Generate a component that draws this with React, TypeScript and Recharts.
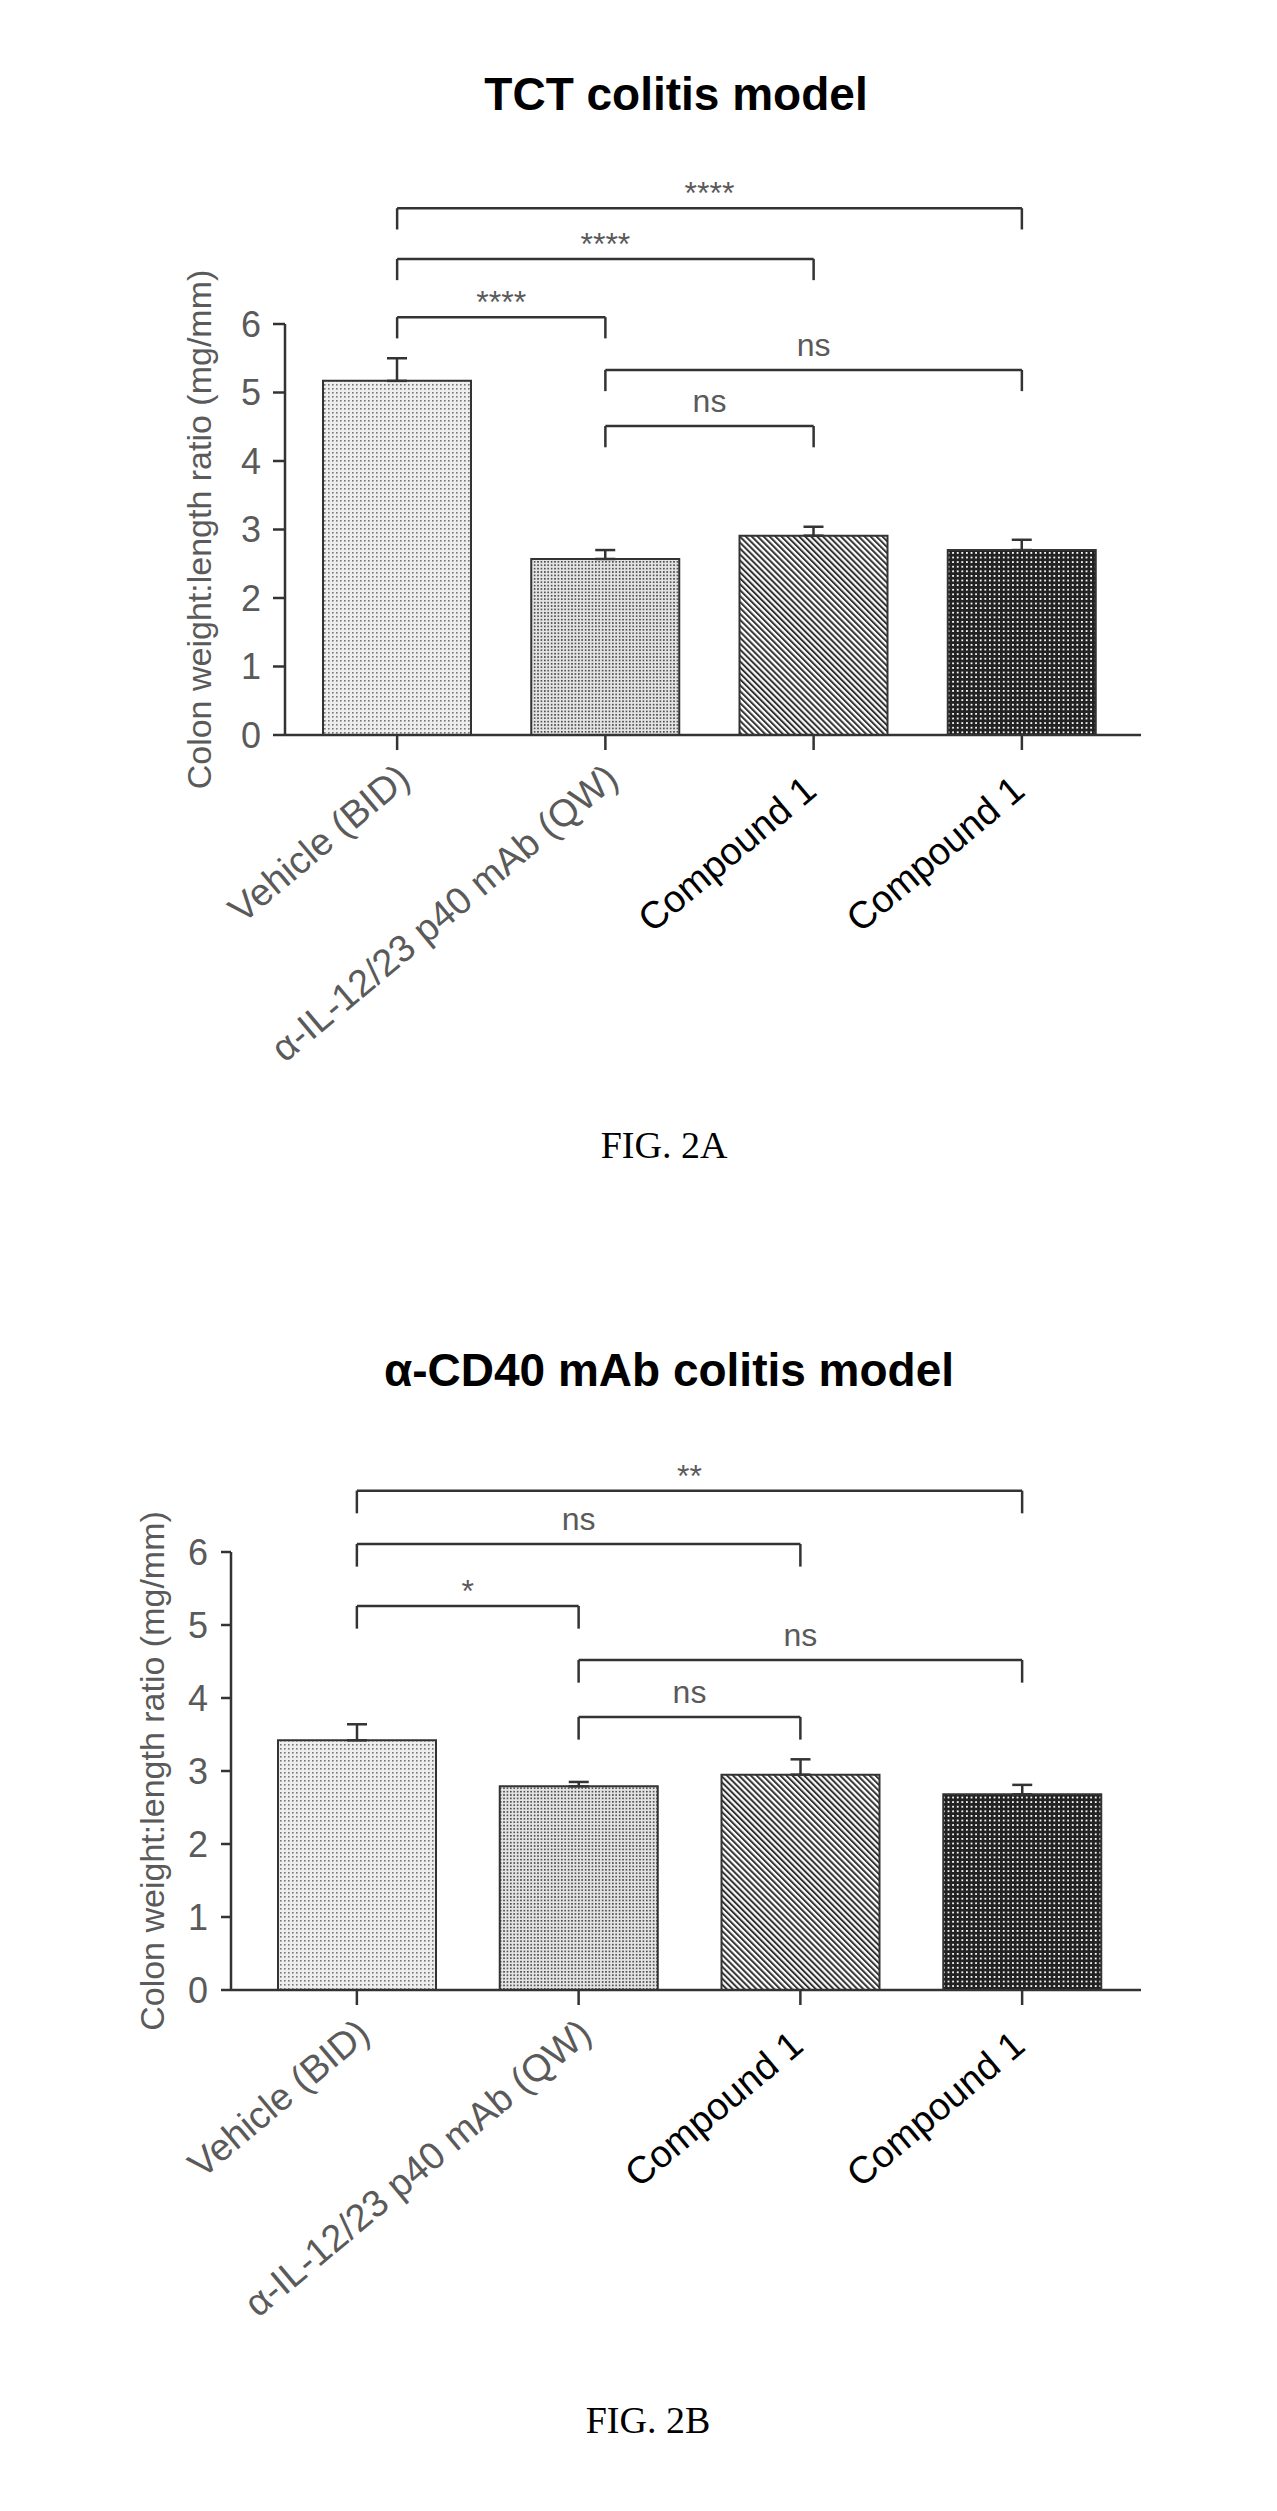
import React from "react";
import { BarChart, Bar, XAxis, YAxis, ErrorBar, Cell, ReferenceLine } from "recharts";

// groups on the x axis (ids are unique, the two "Compound 1" labels are not)
const groups = ["veh", "il", "c1a", "c1b"];
const groupLabels = ["Vehicle (BID)", "α-IL-12/23 p40 mAb (QW)", "Compound 1", "Compound 1"];
const yTicks = [0, 1, 2, 3, 4, 5, 6];

// FIG. 2A - TCT colitis model
const tctMeans = [5.17, 2.57, 2.91, 2.7];
const tctSem = [0.33, 0.13, 0.13, 0.15];
const tctBrackets = [
  { from: "veh", to: "c1b", y: 7.69, label: "****" },
  { from: "veh", to: "c1a", y: 6.95, label: "****" },
  { from: "veh", to: "il", y: 6.1, label: "****" },
  { from: "il", to: "c1b", y: 5.33, label: "ns" },
  { from: "il", to: "c1a", y: 4.51, label: "ns" },
];

// FIG. 2B - a-CD40 mAb colitis model
const cd40Means = [3.42, 2.79, 2.95, 2.68];
const cd40Sem = [0.22, 0.06, 0.21, 0.13];
const cd40Brackets = [
  { from: "veh", to: "c1b", y: 6.84, label: "**" },
  { from: "veh", to: "c1a", y: 6.11, label: "ns" },
  { from: "veh", to: "il", y: 5.26, label: "*" },
  { from: "il", to: "c1b", y: 4.52, label: "ns" },
  { from: "il", to: "c1a", y: 3.74, label: "ns" },
];

const SANS = "'Liberation Sans', Arial, sans-serif";
const INK = "#333";
const GREY_TEXT = "#5a5a5a";
const LEG = 0.31;

type Bracket = { from: string; to: string; y: number; label: string };

function GroupTick({ x, y, payload }: any) {
  const i = groups.indexOf(payload.value);
  const compound = i >= 2;
  const ax = x + (compound ? 5 : 15);
  const ay = y + (compound ? 44 : 32);
  return (
    <text
      x={ax}
      y={ay}
      transform={`rotate(-40 ${ax} ${ay})`}
      textAnchor="end"
      fontSize={38}
      fontFamily={SANS}
      fill={compound ? "#000" : GREY_TEXT}
    >
      {groupLabels[i]}
    </text>
  );
}

function bracketLines(b: Bracket, key: string) {
  const stroke = { stroke: INK, strokeWidth: 2.5, ifOverflow: "visible" as const };
  const stars = b.label.includes("*");
  return [
    <ReferenceLine
      key={key + "h"}
      {...stroke}
      segment={[{ x: b.from, y: b.y }, { x: b.to, y: b.y }]}
      label={{
        value: b.label,
        position: "top",
        offset: stars ? 4 : 14,
        fill: GREY_TEXT,
        fontSize: 32,
        fontFamily: SANS,
      }}
    />,
    <ReferenceLine key={key + "l"} {...stroke} segment={[{ x: b.from, y: b.y }, { x: b.from, y: b.y - LEG }]} />,
    <ReferenceLine key={key + "r"} {...stroke} segment={[{ x: b.to, y: b.y }, { x: b.to, y: b.y - LEG }]} />,
  ];
}

function Patterns({ p }: { p: string }) {
  return (
    <defs>
      <pattern id={p + "1"} width="4" height="4" patternUnits="userSpaceOnUse">
        <rect width="4" height="4" fill="#eeeeee" />
        <rect width="1.6" height="1.6" fill="#777" />
      </pattern>
      <pattern id={p + "2"} width="3.4" height="3.4" patternUnits="userSpaceOnUse">
        <rect width="3.4" height="3.4" fill="#e4e4e4" />
        <rect width="1.6" height="1.6" fill="#444" />
      </pattern>
      <pattern id={p + "3"} width="4.2" height="4.2" patternUnits="userSpaceOnUse" patternTransform="rotate(-45)">
        <rect width="4.2" height="4.2" fill="#fff" />
        <rect width="2" height="4.2" fill="#333" />
      </pattern>
      <pattern id={p + "4"} width="4.6" height="4.6" patternUnits="userSpaceOnUse">
        <rect width="4.6" height="4.6" fill="#222" />
        <rect width="1.8" height="1.8" fill="#fff" />
      </pattern>
    </defs>
  );
}

type PanelProps = {
  id: string;
  top: number;
  means: number[];
  sem: number[];
  brackets: Bracket[];
  margin: { top: number; right: number; bottom: number; left: number };
  pad: { left: number; right: number };
  barSize: number;
  tickSize: number;
  tickMargin: number;
  labelOffset: number;
};

function Panel(p: PanelProps) {
  const data = groups.map((g, i) => ({ g, mean: p.means[i], err: [0, p.sem[i]] }));
  const axis = { stroke: INK, strokeWidth: 2.5 };
  return (
    <div style={{ position: "absolute", left: 0, top: p.top }}>
      <BarChart width={1277} height={1200} data={data} margin={p.margin}>
        <Patterns p={p.id} />
        <XAxis
          dataKey="g"
          interval={0}
          height={200}
          padding={p.pad}
          axisLine={axis}
          tickLine={axis}
          tickSize={15}
          tickMargin={0}
          tick={<GroupTick />}
        />
        <YAxis
          width={100}
          domain={[0, 6]}
          ticks={yTicks}
          allowDataOverflow
          axisLine={axis}
          tickLine={axis}
          tickSize={p.tickSize}
          tickMargin={p.tickMargin}
          tick={{ fill: GREY_TEXT, fontSize: 36, fontFamily: SANS }}
          label={{
            value: "Colon weight:length ratio (mg/mm)",
            angle: -90,
            position: "insideLeft",
            offset: p.labelOffset,
            fill: GREY_TEXT,
            fontSize: 34,
            fontFamily: SANS,
            style: { textAnchor: "middle" },
          }}
        />
        <Bar dataKey="mean" barSize={p.barSize} stroke={INK} strokeWidth={2} isAnimationActive={false}>
          {data.map((d, i) => (
            <Cell key={d.g} fill={`url(#${p.id}${i + 1})`} />
          ))}
          <ErrorBar dataKey="err" direction="y" width={10} stroke={INK} strokeWidth={2.5} isAnimationActive={false} />
        </Bar>
        {p.brackets.flatMap((b, i) => bracketLines(b, p.id + i))}
      </BarChart>
    </div>
  );
}

const titleStyle: React.CSSProperties = {
  position: "absolute",
  width: 800,
  textAlign: "center",
  fontFamily: SANS,
  fontWeight: "bold",
  fontSize: 46,
  lineHeight: "46px",
  color: "#000",
};
const figStyle: React.CSSProperties = {
  position: "absolute",
  width: 400,
  textAlign: "center",
  fontFamily: "'Liberation Serif', 'Times New Roman', serif",
  fontSize: 38,
  lineHeight: "38px",
  color: "#000",
};

export default function App() {
  return (
    <div style={{ position: "absolute", left: 0, top: 0, width: 1277, height: 2511, background: "#fff" }}>
      <Panel
        id="pa"
        top={0}
        means={tctMeans}
        sem={tctSem}
        brackets={tctBrackets}
        margin={{ top: 324, right: 136, bottom: 265, left: 185 }}
        pad={{ left: 8, right: 15 }}
        barSize={148}
        tickSize={12}
        tickMargin={12}
        labelOffset={14}
      />
      <Panel
        id="pb"
        top={1240}
        means={cd40Means}
        sem={cd40Sem}
        brackets={cd40Brackets}
        margin={{ top: 312, right: 136, bottom: 250, left: 131 }}
        pad={{ left: 15, right: 8 }}
        barSize={158}
        tickSize={10}
        tickMargin={13}
        labelOffset={21}
      />
      <div style={{ ...titleStyle, left: 676 - 400, top: 71 }}>TCT colitis model</div>
      <div style={{ ...titleStyle, left: 669 - 400, top: 1347 }}>α-CD40 mAb colitis model</div>
      <div style={{ ...figStyle, left: 664 - 200, top: 1126 }}>FIG. 2A</div>
      <div style={{ ...figStyle, left: 648 - 200, top: 2401 }}>FIG. 2B</div>
    </div>
  );
}
